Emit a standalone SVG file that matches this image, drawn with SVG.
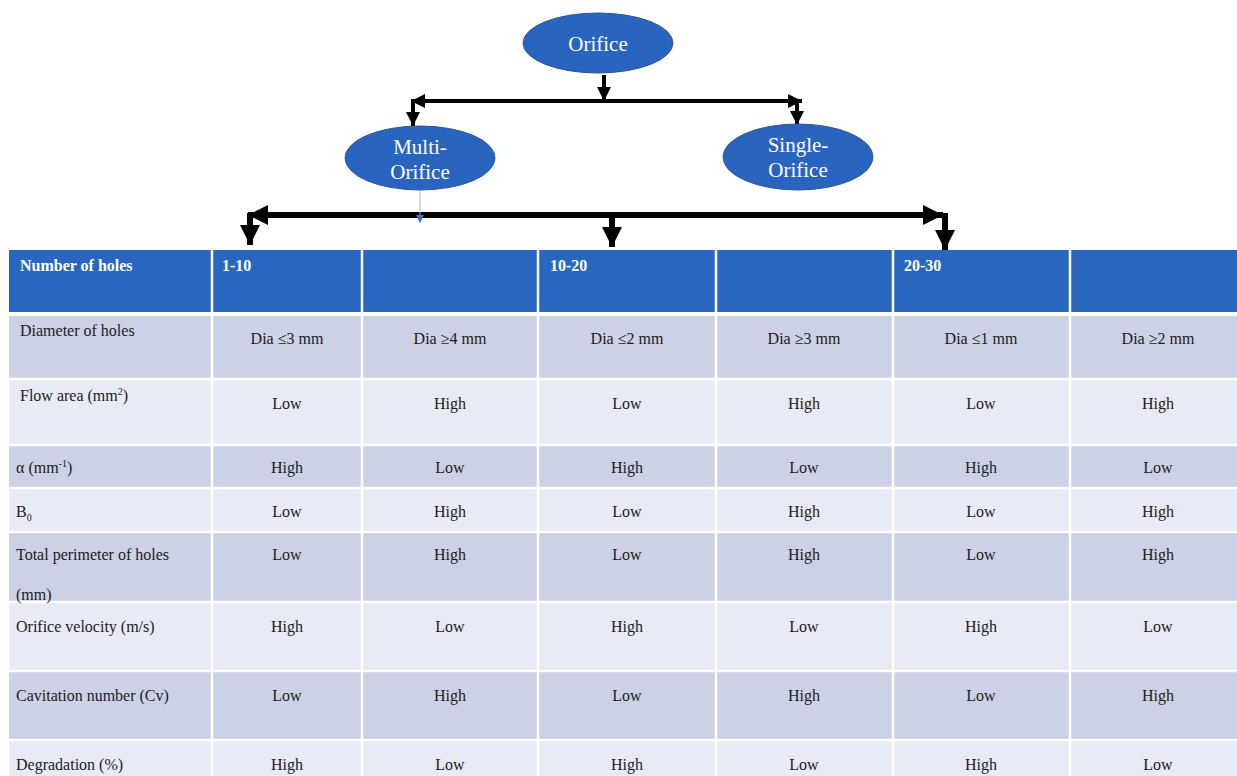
<svg xmlns="http://www.w3.org/2000/svg" width="1237" height="776" viewBox="0 0 1237 776">
<style>
.node{fill:#2965be;stroke:#2f5597;stroke-width:1}
.nt{font-family:"Liberation Serif","Times New Roman",serif;font-size:21px;fill:#fff;text-anchor:middle}
.thin{stroke:#000;stroke-width:4;fill:none}
.thick{stroke:#000;stroke-width:6;fill:none}
.hdr{fill:#2866c0}
.dk{fill:#cdd1e6}
.lt{fill:#e8eaf5}
.grid{stroke:#fff;stroke-width:2.5}
.ht{font-family:"Liberation Serif","Times New Roman",serif;font-size:16px;font-weight:bold;fill:#fff}
.lb{font-family:"Liberation Serif","Times New Roman",serif;font-size:16px;fill:#1c1c1c}
.v{font-family:"Liberation Serif","Times New Roman",serif;font-size:16px;fill:#1c1c1c;text-anchor:middle}
</style>
<defs>
<marker id="ah" markerUnits="userSpaceOnUse" markerWidth="14" markerHeight="14" viewBox="0 0 14 14" refX="14" refY="7" orient="auto-start-reverse">
<path d="M0,0 L14,7 L0,14 z" fill="#000"/>
</marker>
<marker id="ahB" markerUnits="userSpaceOnUse" markerWidth="20" markerHeight="20" viewBox="0 0 20 20" refX="20" refY="10" orient="auto-start-reverse">
<path d="M0,0 L20,10 L0,20 z" fill="#000"/>
</marker>
<marker id="ahS" markerUnits="userSpaceOnUse" markerWidth="8" markerHeight="8" viewBox="0 0 8 8" refX="8" refY="4" orient="auto">
<path d="M0,0 L8,4 L0,8 z" fill="#3a6fc4"/>
</marker>
</defs>

<g id="table">
<rect class="hdr" x="9" y="250" width="1236" height="63"/>
<rect class="dk" x="9" y="315" width="1236" height="64"/>
<rect class="lt" x="9" y="379" width="1236" height="66"/>
<rect class="dk" x="9" y="445" width="1236" height="43"/>
<rect class="lt" x="9" y="488" width="1236" height="44"/>
<rect class="dk" x="9" y="532" width="1236" height="70"/>
<rect class="lt" x="9" y="602" width="1236" height="69"/>
<rect class="dk" x="9" y="671" width="1236" height="69"/>
<rect class="lt" x="9" y="740" width="1236" height="40"/>
<line class="grid" x1="9" y1="314" x2="1245" y2="314" style="stroke-width:4"/>
<line class="grid" x1="9" y1="379" x2="1245" y2="379"/>
<line class="grid" x1="9" y1="445" x2="1245" y2="445"/>
<line class="grid" x1="9" y1="488" x2="1245" y2="488"/>
<line class="grid" x1="9" y1="532" x2="1245" y2="532"/>
<line class="grid" x1="9" y1="602" x2="1245" y2="602"/>
<line class="grid" x1="9" y1="671" x2="1245" y2="671"/>
<line class="grid" x1="9" y1="740" x2="1245" y2="740"/>
<line class="grid" x1="212" y1="250" x2="212" y2="776"/>
<line class="grid" x1="362" y1="250" x2="362" y2="776"/>
<line class="grid" x1="538" y1="250" x2="538" y2="776"/>
<line class="grid" x1="716" y1="250" x2="716" y2="776"/>
<line class="grid" x1="893" y1="250" x2="893" y2="776"/>
<line class="grid" x1="1070" y1="250" x2="1070" y2="776"/>

<text class="ht" x="20" y="271">Number of holes</text>
<text class="ht" x="222" y="271">1-10</text>
<text class="ht" x="550" y="271">10-20</text>
<text class="ht" x="904" y="271">20-30</text>

<text class="lb" x="20" y="336">Diameter of holes</text>
<text class="v" x="287" y="344">Dia ≤3 mm</text>
<text class="v" x="450" y="344">Dia ≥4 mm</text>
<text class="v" x="627" y="344">Dia ≤2 mm</text>
<text class="v" x="804" y="344">Dia ≥3 mm</text>
<text class="v" x="981" y="344">Dia ≤1 mm</text>
<text class="v" x="1158" y="344">Dia ≥2 mm</text>

<text class="lb" x="20" y="401">Flow area (mm<tspan font-size="10" dy="-6">2</tspan><tspan dy="6">)</tspan></text>
<text class="v" x="287" y="409">Low</text>
<text class="v" x="450" y="409">High</text>
<text class="v" x="627" y="409">Low</text>
<text class="v" x="804" y="409">High</text>
<text class="v" x="981" y="409">Low</text>
<text class="v" x="1158" y="409">High</text>

<text class="lb" x="16" y="473">α (mm<tspan font-size="10" dy="-6">-1</tspan><tspan dy="6">)</tspan></text>
<text class="v" x="287" y="473">High</text>
<text class="v" x="450" y="473">Low</text>
<text class="v" x="627" y="473">High</text>
<text class="v" x="804" y="473">Low</text>
<text class="v" x="981" y="473">High</text>
<text class="v" x="1158" y="473">Low</text>

<text class="lb" x="16" y="517">B<tspan font-size="10" dy="4">0</tspan></text>
<text class="v" x="287" y="517">Low</text>
<text class="v" x="450" y="517">High</text>
<text class="v" x="627" y="517">Low</text>
<text class="v" x="804" y="517">High</text>
<text class="v" x="981" y="517">Low</text>
<text class="v" x="1158" y="517">High</text>

<text class="lb" x="16" y="560">Total perimeter of holes</text>
<text class="lb" x="16" y="600">(mm)</text>
<text class="v" x="287" y="560">Low</text>
<text class="v" x="450" y="560">High</text>
<text class="v" x="627" y="560">Low</text>
<text class="v" x="804" y="560">High</text>
<text class="v" x="981" y="560">Low</text>
<text class="v" x="1158" y="560">High</text>

<text class="lb" x="16" y="632">Orifice velocity (m/s)</text>
<text class="v" x="287" y="632">High</text>
<text class="v" x="450" y="632">Low</text>
<text class="v" x="627" y="632">High</text>
<text class="v" x="804" y="632">Low</text>
<text class="v" x="981" y="632">High</text>
<text class="v" x="1158" y="632">Low</text>

<text class="lb" x="16" y="701">Cavitation number (Cv)</text>
<text class="v" x="287" y="701">Low</text>
<text class="v" x="450" y="701">High</text>
<text class="v" x="627" y="701">Low</text>
<text class="v" x="804" y="701">High</text>
<text class="v" x="981" y="701">Low</text>
<text class="v" x="1158" y="701">High</text>

<text class="lb" x="16" y="770">Degradation (%)</text>
<text class="v" x="287" y="770">High</text>
<text class="v" x="450" y="770">Low</text>
<text class="v" x="627" y="770">High</text>
<text class="v" x="804" y="770">Low</text>
<text class="v" x="981" y="770">High</text>
<text class="v" x="1158" y="770">Low</text>
</g>

<g id="connectors">
<line class="thin" x1="604" y1="75" x2="604" y2="101" marker-end="url(#ah)"/>
<line class="thin" x1="411" y1="101" x2="802" y2="101" marker-start="url(#ah)" marker-end="url(#ah)"/>
<line class="thin" x1="413" y1="101" x2="413" y2="126" marker-end="url(#ah)"/>
<line class="thin" x1="797" y1="101" x2="797" y2="125" marker-end="url(#ah)"/>
<line class="thick" x1="248" y1="215" x2="943" y2="215" marker-start="url(#ahB)" marker-end="url(#ahB)"/>
<line class="thick" x1="250" y1="213" x2="250" y2="245" marker-end="url(#ahB)"/>
<line class="thick" x1="612" y1="213" x2="612" y2="247" marker-end="url(#ahB)"/>
<line class="thick" x1="945" y1="213" x2="945" y2="250" marker-end="url(#ahB)"/>
<line x1="420" y1="190" x2="420" y2="223" stroke="#a9c1e6" stroke-width="1" marker-end="url(#ahS)"/>
</g>

<g id="node-orifice">
<ellipse class="node" cx="598" cy="43" rx="75" ry="30"/>
<text class="nt" x="598" y="51">Orifice</text>
</g>
<g id="node-multi">
<ellipse class="node" cx="420" cy="158" rx="75" ry="32"/>
<text class="nt" x="420" y="154">Multi-</text>
<text class="nt" x="420" y="179">Orifice</text>
</g>
<g id="node-single">
<ellipse class="node" cx="798" cy="157" rx="75" ry="33"/>
<text class="nt" x="798" y="152">Single-</text>
<text class="nt" x="798" y="177">Orifice</text>
</g>
</svg>
